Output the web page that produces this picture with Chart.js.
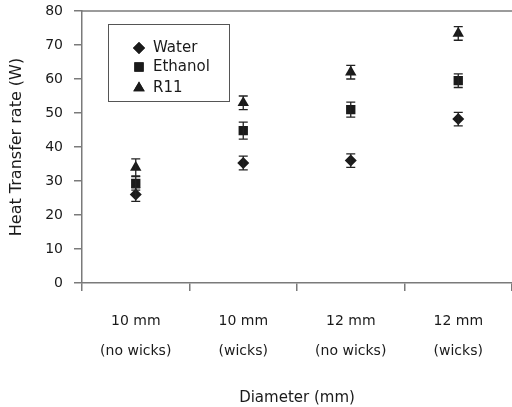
<!DOCTYPE html>
<html>
<head>
<meta charset="utf-8">
<script src="https://cdn.jsdelivr.net/npm/chart.js@4/dist/chart.umd.min.js"></script>
<style>
html,body{margin:0;padding:0;background:#fff;}
#wrap{width:512px;height:407px;}
</style>
</head>
<body>
<div id="wrap"><canvas id="c" width="512" height="407"></canvas></div>
<script>
const categories = [["10 mm", "(no wicks)"], ["10 mm", "(wicks)"], ["12 mm", "(no wicks)"], ["12 mm", "(wicks)"]];
const seriesNames = ["Water", "Ethanol", "R11"];
const water = [26, 35.3, 36, 48.2];
const ethanol = [29.3, 44.8, 51, 59.5];
const r11 = [34, 53, 62, 73.4];
const waterErr = [2, 2, 2, 2];
const ethanolErr = [2, 2.5, 2.2, 2];
const r11Err = [2.5, 2, 2, 2];
const yTicks = [0, 10, 20, 30, 40, 50, 60, 70, 80];

const FONT = "'DejaVu Sans', sans-serif";
const INK = '#1a1a1a';
const AXIS = '#7a7a7a';

const errors = [waterErr, ethanolErr, r11Err];

const errorBars = {
  id: 'errorBars',
  afterDatasetsDraw(chart) {
    const ctx = chart.ctx;
    const y = chart.scales.y;
    ctx.save();
    ctx.strokeStyle = '#222';
    ctx.lineWidth = 1.3;
    chart.data.datasets.forEach((ds, di) => {
      const meta = chart.getDatasetMeta(di);
      meta.data.forEach((pt, i) => {
        const v = ds.data[i];
        const e = errors[di][i];
        const top = y.getPixelForValue(v + e);
        const bot = y.getPixelForValue(v - e);
        const x = pt.x;
        ctx.beginPath();
        ctx.moveTo(x, top); ctx.lineTo(x, bot);
        ctx.moveTo(x - 4.5, top); ctx.lineTo(x + 4.5, top);
        ctx.moveTo(x - 4.5, bot); ctx.lineTo(x + 4.5, bot);
        ctx.stroke();
      });
    });
    ctx.restore();
  }
};

const frameAndLegend = {
  id: 'frameAndLegend',
  afterDraw(chart) {
    const ctx = chart.ctx;
    const a = chart.chartArea;
    ctx.save();
    ctx.strokeStyle = AXIS;
    ctx.lineWidth = 1.5;
    ctx.beginPath();
    ctx.moveTo(a.left, a.top);
    ctx.lineTo(a.right, a.top);
    ctx.stroke();

    // legend box
    const bx = 108.5, by = 24.5, bw = 121, bh = 77;
    ctx.strokeStyle = '#555';
    ctx.lineWidth = 1;
    ctx.strokeRect(bx, by, bw, bh);
    ctx.font = "15px " + FONT;
    ctx.textBaseline = 'middle';
    ctx.textAlign = 'left';
    const rows = [48, 67, 88];
    chart.data.datasets.forEach((ds, i) => {
      ctx.fillStyle = INK;
      ctx.strokeStyle = INK;
      Chart.helpers.drawPoint(ctx, {pointStyle: ds.pointStyle, radius: ds.pointRadius, borderWidth: 0}, 139, rows[i]);
      ctx.fill();
      ctx.fillStyle = INK;
      ctx.fillText(ds.label, 153, rows[i]);
    });
    ctx.restore();
  }
};

new Chart(document.getElementById('c'), {
  type: 'line',
  data: {
    labels: categories,
    datasets: [
      {label: seriesNames[0], data: water, pointStyle: 'rectRot', pointRadius: 6},
      {label: seriesNames[1], data: ethanol, pointStyle: 'rect', pointRadius: 6.6},
      {label: seriesNames[2], data: r11, pointStyle: 'triangle', pointRadius: 6.6}
    ].map(d => Object.assign(d, {
      showLine: false,
      backgroundColor: INK,
      borderColor: INK,
      borderWidth: 0,
      pointHoverRadius: d.pointRadius
    }))
  },
  options: {
    responsive: false,
    animation: false,
    events: [],
    layout: {autoPadding: false, padding: {top: 11, right: 0, left: 0, bottom: 0}},
    plugins: {legend: {display: false}, tooltip: {enabled: false}},
    scales: {
      x: {
        type: 'category',
        offset: true,
        grid: {display: true, drawOnChartArea: false, offset: true, tickLength: 8, color: AXIS, lineWidth: 1.5},
        border: {color: AXIS, width: 1.5},
        ticks: {color: INK, font: {family: FONT, size: 14, lineHeight: 2.1}, padding: 16, maxRotation: 0, autoSkip: false},
        title: {display: true, text: 'Diameter (mm)', color: INK, font: {family: FONT, size: 15}, padding: {top: 0, bottom: 0}},
        afterFit(s) { s.height = 124; s.paddingRight = 0; s.paddingLeft = 0; }
      },
      y: {
        min: 0, max: 80,
        afterBuildTicks(s) { s.ticks = yTicks.map(v => ({value: v})); },
        grid: {display: true, drawOnChartArea: false, tickLength: 8, color: AXIS, lineWidth: 1.5},
        border: {color: AXIS, width: 1.5},
        ticks: {color: INK, font: {family: FONT, size: 14}, padding: 11},
        title: {display: true, text: 'Heat Transfer rate (W)', color: INK, font: {family: FONT, size: 16}, padding: {top: 7, bottom: 0}},
        afterFit(s) { s.width = 82; s.paddingTop = 0; s.paddingBottom = 0; }
      }
    }
  },
  plugins: [errorBars, frameAndLegend]
});
</script>
</body>
</html>
